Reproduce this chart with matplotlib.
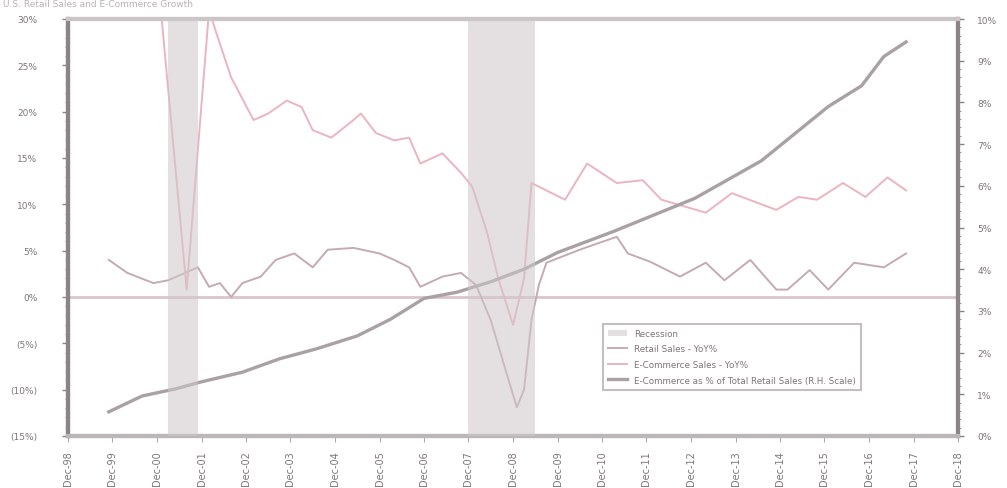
import matplotlib.pyplot as plt
import matplotlib.ticker as mticker
import pandas as pd

# Retail sales, YoY % (left scale)
retail_dates = ["1999-11", "2000-04", "2000-11", "2001-03", "2001-11", "2002-02", "2002-05",
                "2002-08", "2002-11", "2003-04", "2003-08", "2004-01", "2004-06", "2004-10",
                "2005-05", "2005-12", "2006-04", "2006-08", "2006-11", "2007-05", "2007-10",
                "2008-02", "2008-06", "2008-10", "2009-01", "2009-03", "2009-05", "2009-07",
                "2009-09", "2010-06", "2011-04", "2011-07", "2012-01", "2012-09", "2013-04",
                "2013-09", "2014-04", "2014-11", "2015-02", "2015-08", "2016-01", "2016-08",
                "2017-04", "2017-10"]
retail_yoy = [4.0, 2.6, 1.5, 1.8, 3.2, 1.1, 1.5, 0.0, 1.5, 2.2, 4.0, 4.7, 3.2, 5.1,
              5.3, 4.7, 4.0, 3.2, 1.1, 2.2, 2.6, 1.3, -2.5, -7.9, -11.9, -10.0, -2.5, 1.3,
              3.7, 5.1, 6.5, 4.7, 3.8, 2.2, 3.7, 1.8, 4.0, 0.8, 0.8, 2.9, 0.8, 3.7,
              3.2, 4.7]

# E-commerce sales, YoY % (left scale)
ecom_dates = ["2000-11", "2001-01", "2001-08", "2002-02", "2002-04", "2002-08", "2003-02",
              "2003-06", "2003-11", "2004-03", "2004-06", "2004-11", "2005-05", "2005-07",
              "2005-11", "2006-04", "2006-08", "2006-11", "2007-05", "2007-10", "2008-01",
              "2008-05", "2008-08", "2008-12", "2009-03", "2009-05", "2010-02", "2010-08",
              "2011-04", "2011-11", "2012-04", "2013-04", "2013-11", "2014-11", "2015-05",
              "2015-10", "2016-05", "2016-11", "2017-05", "2017-10"]
ecom_yoy = [45.0, 31.0, 0.8, 31.0, 28.5, 23.7, 19.1, 19.8, 21.2, 20.5, 18.0, 17.2, 19.1, 19.8,
            17.7, 16.9, 17.2, 14.4, 15.5, 13.4, 11.9, 7.0, 2.0, -3.0, 2.0, 12.3, 10.5, 14.4,
            12.3, 12.6, 10.5, 9.1, 11.2, 9.4, 10.8, 10.5, 12.3, 10.8, 12.9, 11.5]

# E-commerce as % of retail sales (right scale)
share_dates = ["1999-11", "2000-08", "2001-05", "2001-12", "2002-11", "2003-09", "2004-07",
               "2005-06", "2006-03", "2006-12", "2007-09", "2008-06", "2009-03", "2009-12",
               "2011-03", "2013-01", "2014-07", "2016-01", "2016-10", "2017-04", "2017-10"]
share_pct = [0.58, 0.96, 1.13, 1.30, 1.53, 1.85, 2.09, 2.40, 2.80, 3.30, 3.45, 3.70, 4.00, 4.40,
             4.90, 5.70, 6.60, 7.90, 8.40, 9.10, 9.45]

recessions = [("2001-03", "2001-11"), ("2007-12", "2009-06")]

left_ticks = list(range(-15, 31, 5))
right_ticks = list(range(0, 11))

fig = plt.figure(figsize=(10.07, 4.89), dpi=100)
ax = fig.add_axes([68 / 1007, 1 - 437 / 489, 890 / 1007, 417 / 489])
ax2 = ax.twinx()

c_retail = "#c6aab2"
c_ecom = "#ecb4bf"
c_share = "#a9a1a5"
c_text = "#7d7579"

ax.axhline(0, color="#dcc4ca", lw=2, zorder=1)
l1, = ax.plot(pd.to_datetime(retail_dates), retail_yoy, color=c_retail, lw=1.4,
              label="Retail Sales - YoY%")
l2, = ax.plot(pd.to_datetime(ecom_dates), ecom_yoy, color=c_ecom, lw=1.4,
              label="E-Commerce Sales - YoY%")
l3, = ax2.plot(pd.to_datetime(share_dates), share_pct, color=c_share, lw=2.4,
               label="E-Commerce as % of Total Retail Sales (R.H. Scale)")
for start, end in recessions:
    sp = ax2.axvspan(pd.Timestamp(start), pd.Timestamp(end), color="#cfc8cb", alpha=0.55,
                     lw=0, zorder=5, label="Recession")

ax.set_ylim(-15, 30)
ax2.set_ylim(0, 10)
ax.set_xlim(pd.Timestamp("1998-12-01"), pd.Timestamp("2018-12-01"))

xt = pd.date_range("1998-12-01", "2018-12-01", freq="12MS")
ax.set_xticks(xt)
ax.set_xticklabels([d.strftime("%b-%y") for d in xt], rotation=90, fontsize=7, color=c_text)
ax.set_yticks(left_ticks)
ax.set_yticklabels([f"{v}%" if v >= 0 else f"({-v}%)" for v in left_ticks], fontsize=6.5,
                   color=c_text)
ax2.set_yticks(right_ticks)
ax2.set_yticklabels([f"{v}%" for v in right_ticks], fontsize=6.5, color=c_text)
ax.yaxis.set_minor_locator(mticker.MultipleLocator(1))
ax2.yaxis.set_minor_locator(mticker.MultipleLocator(0.2))

ax.tick_params(axis="y", length=4, width=1, color="#8a8487", pad=18)
ax.tick_params(axis="y", which="minor", length=2, color="#8a8487")
ax.tick_params(axis="x", length=4, color="#b0a9ac", pad=6)
ax2.tick_params(axis="y", length=4, width=1, color="#8a8487", pad=10)
ax2.tick_params(axis="y", which="minor", length=2, color="#8a8487")

for a in (ax, ax2):
    a.spines["left"].set_color("#8a8487")
    a.spines["left"].set_linewidth(3)
    a.spines["right"].set_color("#8a8487")
    a.spines["right"].set_linewidth(3)
    a.spines["top"].set_color("#cbc5c8")
    a.spines["top"].set_linewidth(3)
    a.spines["bottom"].set_color("#bdb6b9")
    a.spines["bottom"].set_linewidth(3)

leg = ax2.legend(handles=[sp, l1, l2, l3], loc="upper left", bbox_to_anchor=(0.596, 0.28),
                 fontsize=6.3, frameon=True, fancybox=False, borderpad=0.6,
                 labelspacing=0.75, handlelength=2.2, labelcolor=c_text)
leg.get_frame().set_edgecolor("#b5aeb1")
leg.get_frame().set_linewidth(1.5)

fig.text(0.003, 0.999, "U.S. Retail Sales and E-Commerce Growth", fontsize=6.5,
         color="#b8b1b4", va="top", ha="left")

fig.savefig("out.png", dpi=100)
